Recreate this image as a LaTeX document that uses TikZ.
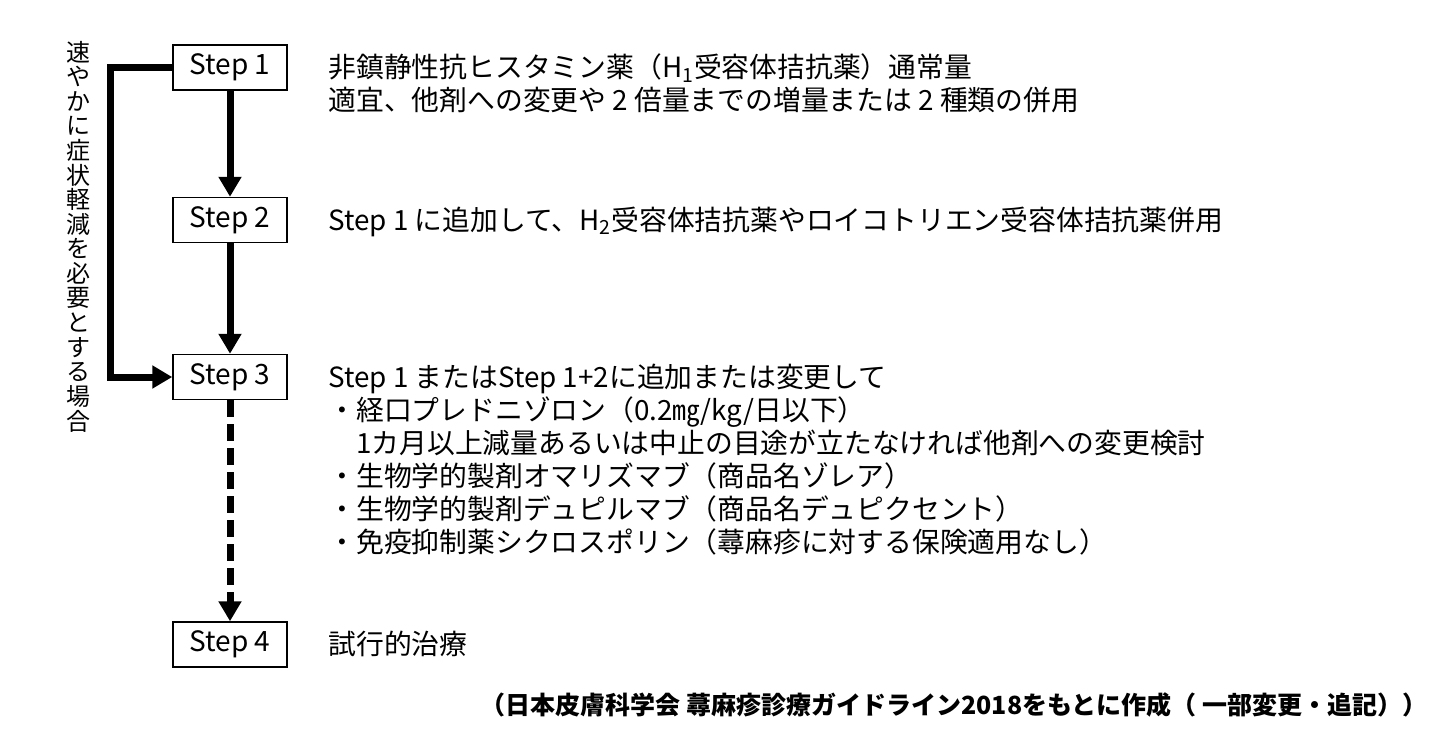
\documentclass[tikz,border=0pt]{standalone}
\usepackage{fontspec}
\setmainfont{Noto Sans CJK JP}
\usetikzlibrary{positioning,arrows.meta}

\begin{document}
\begin{tikzpicture}[x=0.5pt,y=-0.5pt,
		stepbox/.style={draw, line width=0.75pt, minimum width=57pt, minimum height=22.5pt, inner sep=0pt, font=\fontsize{14}{16}\selectfont},
		flow/.style={line width=3.5pt, -{Triangle[length=10pt,width=11pt]}},
		note/.style={anchor=north west, align=left, inner sep=0pt, font=\fontsize{13.9}{16.5}\selectfont},
		vtext/.style={inner sep=0pt, font=\fontsize{12}{13}\selectfont}]
			\pgfmathsetmacro{\BoxX}{230}
			\pgfmathsetmacro{\TextX}{328}
			\pgfmathsetmacro{\TopOff}{13.5}
			\pgfmathsetmacro{\BendX}{110}
			\useasboundingbox (0,0) rectangle (1440,750);
			
			\node[stepbox] (s1) at (\BoxX,67.5) {Step 1};
			\node[stepbox] (s2) at (\BoxX,220) {Step 2};
			\node[stepbox] (s3) at (\BoxX,377) {Step 3};
			\node[stepbox] (s4) at (\BoxX,644.5) {Step 4};
			
			\node[note] (t1) at (\TextX,67-\TopOff) {非鎮静性抗ヒスタミン薬（H\textsubscript{1}受容体拮抗薬）通常量\\適宜、他剤への変更や 2 倍量までの増量または 2 種類の併用};
			\node[note] (t2) at (\TextX,220-\TopOff) {Step 1 に追加して、H\textsubscript{2}受容体拮抗薬やロイコトリエン受容体拮抗薬併用};
			\node[note] (t3) at (\TextX,377-\TopOff) {Step 1 またはStep 1+2に追加または変更して\\・経口プレドニゾロン（0.2㎎/kg/日以下）\\　1カ月以上減量あるいは中止の目途が立たなければ他剤への変更検討\\・生物学的製剤オマリズマブ（商品名ゾレア）\\・生物学的製剤デュピルマブ（商品名デュピクセント）\\・免疫抑制薬シクロスポリン（蕁麻疹に対する保険適用なし）};
			\node[note] (t4) at (\TextX,644-\TopOff) {試行的治療};
			
			\draw[flow] (s1) -- (s2);
			\draw[flow] (s2) -- (s3);
			\draw[flow, dash pattern=on 8.5pt off 3.5pt] (s3) -- (s4);
			
			\coordinate (bend) at (\BendX,0);
			\draw[flow] (s1.west) -- (s1.west -| bend) |- (s3.west);
			
			\foreach \ch [count=\i] in {速,や,か,に,症,状,軽,減,を,必,要,と,す,る,場,合}
				\node[vtext] (v\i) at (78,27.5+24.6*\i) {\ch};
			
			\node[anchor=east, inner sep=0pt, font=\fontsize{12.5}{14}\selectfont\bfseries] (src) at (1428,705) {（日本皮膚科学会 蕁麻疹診療ガイドライン2018をもとに作成（ 一部変更・追記））};
		\end{tikzpicture}
\end{document}
